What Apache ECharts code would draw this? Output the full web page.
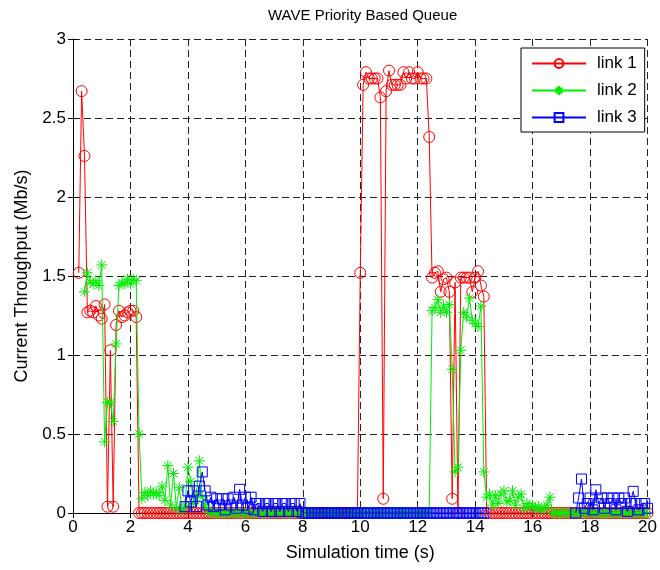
<!DOCTYPE html>
<html>
<head>
<meta charset="utf-8">
<script src="https://cdn.jsdelivr.net/npm/echarts@6/dist/echarts.min.js"></script>
<style>html,body{margin:0;padding:0;background:#fff;}#c{width:660px;height:570px;}</style>
</head>
<body>
<div id="c"></div>
<script>
const chartTitle = 'WAVE Priority Based Queue';
const xLabel = 'Simulation time (s)';
const yLabel = 'Current Throughput (Mb/s)';
const seriesNames = ['link 1', 'link 2', 'link 3'];

// time grid (s)
const time = [
  0.2,0.3,0.4,0.5,0.6,0.7,0.8,0.9,1.0,
  1.1,1.2,1.3,1.4,1.5,1.6,1.7,1.8,1.9,2.0,
  2.1,2.2,2.3,2.4,2.5,2.6,2.7,2.8,2.9,3.0,
  3.1,3.2,3.3,3.4,3.5,3.6,3.7,3.8,3.9,4.0,
  4.1,4.2,4.3,4.4,4.5,4.6,4.7,4.8,4.9,5.0,
  5.1,5.2,5.3,5.4,5.5,5.6,5.7,5.8,5.9,6.0,
  6.1,6.2,6.3,6.4,6.5,6.6,6.7,6.8,6.9,7.0,
  7.1,7.2,7.3,7.4,7.5,7.6,7.7,7.8,7.9,8.0,
  8.1,8.2,8.3,8.4,8.5,8.6,8.7,8.8,8.9,9.0,
  9.1,9.2,9.3,9.4,9.5,9.6,9.7,9.8,9.9,10.0,
  10.1,10.2,10.3,10.4,10.5,10.6,10.7,10.8,10.9,11.0,
  11.1,11.2,11.3,11.4,11.5,11.6,11.7,11.8,11.9,12.0,
  12.1,12.2,12.3,12.4,12.5,12.6,12.7,12.8,12.9,13.0,
  13.1,13.2,13.3,13.4,13.5,13.6,13.7,13.8,13.9,14.0,
  14.1,14.2,14.3,14.4,14.5,14.6,14.7,14.8,14.9,15.0,
  15.1,15.2,15.3,15.4,15.5,15.6,15.7,15.8,15.9,16.0,
  16.1,16.2,16.3,16.4,16.5,16.6,16.7,16.8,16.9,17.0,
  17.1,17.2,17.3,17.4,17.5,17.6,17.7,17.8,17.9,18.0,
  18.1,18.2,18.3,18.4,18.5,18.6,18.7,18.8,18.9,19.0,
  19.1,19.2,19.3,19.4,19.5,19.6,19.7,19.8,19.9,20.0
];

const link1 = [
  1.52,2.67,2.26,1.27,1.28,1.27,1.31,1.25,1.23,
  1.32,0.04,1.03,0.04,1.19,1.28,1.24,1.25,1.27,1.28,
  1.28,1.24,0,0,0,0,0,0,0,0,
  0,0,0,0,0,0,0,0,0,0,
  0,0,0,0,0,0,0,0,0,0,
  0,0,0,0,0,0,0,0,0,0,
  0,0,0,0,0,0,0,0,0,0,
  0,0,0,0,0,0,0,0,0,0,
  0,0,0,0,0,0,0,0,0,0,
  0,0,0,0,0,0,0,0,0,1.52,
  2.71,2.79,2.75,2.75,2.75,2.75,2.63,0.09,2.67,2.80,
  2.71,2.71,2.71,2.71,2.79,2.75,2.79,2.75,2.75,2.79,
  2.75,2.75,2.75,2.38,1.49,1.52,1.53,1.40,1.48,1.49,
  1.40,0.09,1.46,0,1.49,1.49,1.49,1.49,1.40,1.49,
  1.53,1.44,1.37,0,0,0,0,0,0,0,
  0,0,0,0,0,0,0,0,0,0,
  0,0,0,0,0,0,0,0,0,0,
  0,0,0,0,0,0,0,0,0,0,
  0,0,0,0,0,0,0,0,0,0,
  0,0,0,0,0,0,0,0,0,0
];

const link2 = [
  null,null,1.40,1.52,1.46,1.45,1.47,1.44,1.57,
  0.45,0.70,0.70,0.58,1.07,1.44,1.46,1.45,1.48,1.45,
  1.48,1.47,0.50,0.09,0.13,0.11,0.14,0.12,0.13,0.11,
  0.17,0.08,0.30,0.05,0.25,0.03,0.16,0.02,0.05,0.29,
  0.20,0.06,0.12,0.33,0.10,0.05,0.02,0,0,0,
  0,0,0,0,0,0,0,0,0,0,
  0,0,0,0,0,0,0,0,0,0,
  0,0,0,0,0,0,0,0,0,0,
  0,0,0,0,0,0,0,0,0,0,
  0,0,0,0,0,0,0,0,0,0,
  0,0,0,0,0,0,0,0,0,0,
  0,0,0,0,0,0,0,0,0,0,
  0,0,0,0,1.28,1.30,1.35,1.27,1.31,1.27,
  1.32,0.91,0.26,0.29,1.03,1.27,1.24,1.36,1.22,1.20,
  1.18,1.31,0.26,0.10,0.12,0.05,0.11,0.06,0.12,0.14,
  0.07,0.08,0.14,0.05,0.10,0.12,0.03,0.06,0.04,0.05,
  0.03,0.04,0.02,0.03,0.05,0.10,0,0,0,0,
  0,0,0,0,0,0,0,0,0,0,
  0,0,0,0,0,0,0,0,0,0,
  0,0,0,0,0,0,0,0,0,0
];

const link3 = [
  null,null,null,null,null,null,null,null,null,
  null,null,null,null,null,null,null,null,null,null,
  null,null,null,null,null,null,null,null,null,null,
  null,null,null,null,null,null,null,null,0.04,0.14,
  0.07,0.14,0.04,0.17,0.26,0.14,0.05,0.10,0.04,0.09,
  0.05,0.09,0.02,0.09,0.05,0.10,0.03,0.15,0.05,0.10,
  0.03,0.10,0.02,0.06,0.06,0.01,0.06,0.06,0.01,0.06,
  0.06,0.01,0.06,0.06,0.01,0.06,0.06,0.01,0.06,0,
  0,0,0,0,0,0,0,0,0,0,
  0,0,0,0,0,0,0,0,0,0,
  0,0,0,0,0,0,0,0,0,0,
  0,0,0,0,0,0,0,0,0,0,
  0,0,0,0,0,0,0,0,0,0,
  0,0,0,0,0,0,0,0,0,0,
  0,0,0,null,null,null,null,null,null,null,
  null,null,null,null,null,null,null,null,null,null,
  null,null,null,null,null,null,null,null,null,null,
  null,null,null,null,0,0.095,0.215,0.03,0.06,0.095,
  0.02,0.147,0.06,0.095,0.03,0.095,0.06,0.095,0.02,0.095,
  0.06,0.095,0.01,0.06,0.137,0.06,0.02,0.06,0.06,0.03
];

const xTicks = {min: 0, max: 20, interval: 2};
const yTicks = {min: 0, max: 3, interval: 0.5};

const FONT = '"Liberation Sans", Arial, Helvetica, sans-serif';
const asterisk = 'path://M5,0L5,10M0,5L10,5M1.5,1.5L8.5,8.5M8.5,1.5L1.5,8.5';

function pairs(vals) { return time.map((t, i) => [t, vals[i]]); }

const colors = ['#ff0000', '#00ee00', '#0000ff'];
const symbols = ['circle', asterisk, 'rect'];
const sizes = [11, 11, 10];
const dataSets = [link1, link2, link3];

const series = dataSets.map((d, i) => ({
  name: seriesNames[i],
  type: 'line',
  data: pairs(d),
  connectNulls: false,
  symbol: symbols[i],
  symbolSize: sizes[i],
  showAllSymbol: true,
  animation: false,
  lineStyle: {color: colors[i], width: 1},
  itemStyle: {color: 'rgba(0,0,0,0)', borderColor: colors[i], borderWidth: 1},
  emphasis: {disabled: true},
  z: 2 + i
}));

const chart = echarts.init(document.getElementById('c'), null, {renderer: 'canvas'});
const gridLine = {show: true, lineStyle: {color: '#222', type: [7, 4], width: 1}};
chart.setOption({
  animation: false,
  backgroundColor: '#fff',
  textStyle: {fontFamily: FONT},
  graphic: [{
    type: 'text', left: 362 - 94, top: 8,
    style: {text: chartTitle, font: '15px ' + FONT, fill: '#000'}
  }],
  grid: {left: 73, right: 8, top: 39, bottom: 57, containLabel: false},
  legend: {
    orient: 'vertical',
    left: 521, top: 48,
    backgroundColor: '#fff',
    borderColor: '#000', borderWidth: 1,
    padding: [7, 8, 6, 10],
    itemWidth: 54, itemHeight: 11, itemGap: 10,
    textStyle: {fontSize: 17, color: '#000', fontFamily: FONT, padding: [0, 0, 0, 6]},
    data: seriesNames
  },
  xAxis: [{
    type: 'value', min: xTicks.min, max: xTicks.max, interval: xTicks.interval,
    name: xLabel, nameLocation: 'middle', nameGap: 31,
    nameTextStyle: {fontSize: 18, color: '#000', fontFamily: FONT},
    axisLine: {show: true, onZero: false, lineStyle: {color: '#000', width: 1}},
    axisTick: {show: true, inside: true, length: 5, lineStyle: {color: '#000'}},
    axisLabel: {fontSize: 17, color: '#000', margin: 6, fontFamily: FONT},
    splitLine: gridLine
  }, {
    type: 'value', position: 'top', min: xTicks.min, max: xTicks.max, interval: xTicks.interval,
    axisLine: {show: false},
    axisTick: {show: true, inside: true, length: 5, lineStyle: {color: '#000'}},
    axisLabel: {show: false}, splitLine: {show: false}
  }],
  yAxis: [{
    type: 'value', min: yTicks.min, max: yTicks.max, interval: yTicks.interval,
    name: yLabel, nameLocation: 'middle', nameGap: 36,
    nameTextStyle: {fontSize: 18, color: '#000', fontFamily: FONT},
    axisLine: {show: true, onZero: false, lineStyle: {color: '#000', width: 1}},
    axisTick: {show: true, inside: true, length: 5, lineStyle: {color: '#000'}},
    axisLabel: {fontSize: 17, color: '#000', margin: 7, fontFamily: FONT},
    splitLine: gridLine
  }, {
    type: 'value', position: 'right', min: yTicks.min, max: yTicks.max, interval: yTicks.interval,
    axisLine: {show: false},
    axisTick: {show: true, inside: true, length: 5, lineStyle: {color: '#000'}},
    axisLabel: {show: false}, splitLine: {show: false}
  }],
  series: series
});
</script>
</body>
</html>
